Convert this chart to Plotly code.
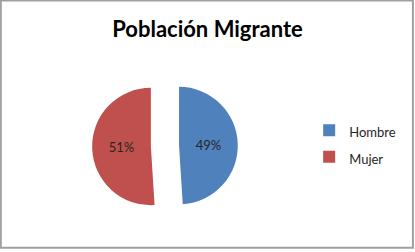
import plotly.graph_objects as go

labels = ["Hombre", "Mujer"]
values = [49, 51]
colors = ["#4F81BD", "#C0504D"]
title_text = "Población Migrante"

legend_labels = ["<span style='font-size:13px'>%s</span>" % l for l in labels]

fig = go.Figure(go.Pie(
    labels=legend_labels,
    values=values,
    marker=dict(colors=colors, line=dict(width=0)),
    sort=False,
    direction="clockwise",
    rotation=0,
    pull=[0.24, 0.24],
    textinfo="percent",
    textposition="inside",
    insidetextorientation="horizontal",
    textfont=dict(family="Lato", size=13, color="#262626"),
    domain=dict(x=[0.222, 0.573], y=[0.131, 0.710]),
    hoverinfo="skip",
))

fig.update_layout(
    width=415, height=252,
    margin=dict(l=0, r=0, t=0, b=0),
    paper_bgcolor="white",
    title=dict(text="<b>%s</b>" % title_text, x=0.5, xanchor="center",
               y=1 - 29 / 252, yanchor="middle",
               font=dict(family="Lato", size=22, color="#000000")),
    legend=dict(x=0.745, y=0.43, xanchor="left", yanchor="middle",
                font=dict(family="Lato", size=18, color="#262626"),
                bgcolor="rgba(0,0,0,0)"),
    shapes=[dict(type="rect", xref="paper", yref="paper", x0=0.002, x1=0.995,
                 y0=0.017, y1=0.998, line=dict(color="#A0A0A0", width=2))],
)

fig.write_html("out.html")
